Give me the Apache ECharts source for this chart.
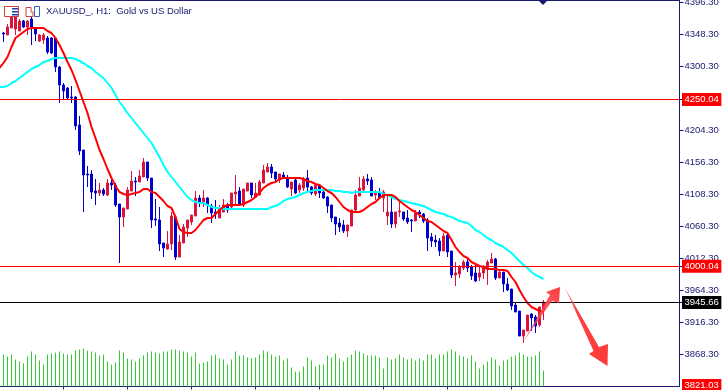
<!DOCTYPE html>
<html>

<head>
    <meta charset="utf-8">
    <script type="text/javascript" src="https://cdn.jsdelivr.net/npm/echarts@6/dist/echarts.min.js"></script>
    <title>XAUUSD H1</title>
    <style>
        html, body { margin: 0; padding: 0; background: #fff; }
    </style>
</head>

<body>
    <div id="container" style="width:728px;height:390px;"></div>
    <script type="text/javascript">
    // H1 candles
    var opens = [4349.8,4346.8,4357.3,4355.8,4352.8,4367.8,4358.8,4370.8,4357.3,4337.8,
        4339.3,4342.3,4342.3,4342.3,4298.8,4271.8,4267.3,4253.8,4253.8,4211.8,
        4174.3,4138.3,4138.3,4112.8,4109.8,4114.3,4106.8,4124.8,4121.8,4093.3,
        4073.8,4085.8,4112.8,4127.8,4126.3,4133.8,4156.3,4132.3,4070.8,4069.3,
        4034.8,4025.8,4033.3,4073.8,4013.8,4034.8,4057.3,4066.3,4075.3,4102.3,
        4094.8,4102.3,4090.3,4081.3,4072.3,4081.3,4091.8,4088.8,4108.3,4112.8,
        4091.8,4112.8,4124.8,4103.8,4106.8,4124.8,4141.3,4148.8,4141.3,4129.3,
        4136.8,4132.3,4115.8,4129.3,4114.3,4117.3,4132.3,4118.8,4108.3,4121.8,
        4111.3,4103.8,4091.8,4073.8,4064.8,4061.8,4052.8,4060.3,4084.3,4105.3,
        4114.3,4130.8,4129.3,4106.8,4109.8,4102.3,4075.3,4081.3,4063.3,4081.3,
        4081.3,4072.3,4069.3,4067.8,4081.3,4078.3,4069.3,4043.8,4039.3,4037.8,
        4022.8,4046.8,4022.8,3986.8,3988.3,3997.3,4006.3,3998.8,3989.8,3983.8,
        3989.8,3997.3,4004.8,4010.8,3982.3,3991.3,3973.3,3965.8,3941.8,3932.8,
        3895.3,3902.8,3928.3,3923.8,3911.8,3934.3];
    var closes = [4348.3,4358.8,4373.8,4379.8,4367.8,4358.8,4367.8,4358.8,4348.3,4346.8,
        4346.8,4321.3,4319.8,4298.8,4271.8,4262.8,4252.3,4252.3,4210.3,4172.8,
        4136.8,4136.8,4111.3,4109.8,4114.3,4108.3,4124.8,4121.8,4091.8,4073.8,
        4087.3,4114.3,4127.8,4126.3,4135.3,4156.3,4132.3,4069.3,4069.3,4033.3,
        4027.3,4033.3,4075.3,4013.8,4036.3,4058.8,4069.3,4076.8,4102.3,4096.3,
        4102.3,4091.8,4079.8,4078.3,4085.8,4091.8,4084.3,4109.8,4111.3,4091.8,
        4115.8,4124.8,4106.8,4109.8,4126.3,4144.3,4148.8,4139.8,4130.8,4138.3,
        4133.8,4118.8,4126.3,4109.8,4121.8,4129.3,4118.8,4109.8,4121.8,4109.8,
        4102.3,4090.3,4072.3,4063.3,4058.8,4052.8,4061.8,4084.3,4106.8,4117.3,
        4130.8,4127.8,4105.3,4109.8,4102.3,4111.3,4081.3,4063.3,4081.3,4082.8,
        4070.8,4066.3,4067.8,4079.8,4078.3,4067.8,4042.3,4037.8,4036.3,4022.8,
        4045.3,4021.3,3986.8,3989.8,3998.8,4006.3,3997.3,3985.3,3977.8,3989.8,
        3997.3,4006.3,4010.8,3982.3,3991.3,3973.3,3964.3,3940.3,3931.3,3895.3,
        3904.3,3926.8,3922.3,3910.3,3938.8,3946.3];
    var lows = [4336.3,4346.8,4357.3,4346.8,4352.8,4357.3,4346.8,4331.8,4337.8,4336.3,
        4333.3,4318.3,4318.3,4291.3,4244.8,4249.3,4249.3,4244.8,4204.3,4166.8,
        4081.3,4118.8,4100.8,4091.8,4105.3,4105.3,4105.3,4114.3,4088.8,4004.8,
        4058.8,4085.8,4112.8,4105.3,4126.3,4133.8,4127.8,4057.3,4060.3,4022.8,
        4013.8,4024.3,4024.3,4009.3,4013.8,4034.8,4043.8,4061.8,4075.3,4088.8,
        4088.8,4079.8,4064.8,4070.8,4072.3,4081.3,4079.8,4087.3,4091.8,4090.3,
        4088.8,4112.8,4102.3,4102.3,4106.8,4124.8,4141.3,4132.3,4124.8,4124.8,
        4132.3,4117.3,4105.3,4108.3,4109.8,4112.8,4112.8,4106.8,4105.3,4102.3,
        4100.8,4079.8,4066.3,4046.8,4051.3,4049.8,4043.8,4060.3,4081.3,4105.3,
        4111.3,4121.8,4105.3,4099.3,4102.3,4081.3,4061.8,4057.3,4057.3,4073.8,
        4067.8,4063.3,4051.3,4067.8,4072.3,4064.8,4022.8,4028.8,4028.8,4015.3,
        4022.8,4013.8,3982.3,3970.3,3982.3,3994.3,3991.3,3979.3,3976.3,3977.8,
        3980.8,3971.8,4004.8,3979.3,3982.3,3961.3,3962.8,3934.3,3931.3,3895.3,
        3884.8,3902.8,3902.8,3899.8,3908.8,3919.3];
    var highs = [4351.3,4363.3,4373.8,4379.8,4370.8,4369.3,4369.3,4373.8,4358.8,4348.3,
        4349.8,4345.3,4343.8,4342.3,4300.3,4274.8,4268.8,4270.3,4255.3,4225.3,
        4174.3,4150.3,4144.3,4130.8,4124.8,4117.3,4130.8,4132.3,4124.8,4093.3,
        4087.3,4118.8,4142.8,4133.8,4144.3,4162.3,4156.3,4132.3,4100.8,4088.8,
        4034.8,4052.8,4081.3,4075.3,4046.8,4063.3,4069.3,4076.8,4112.8,4106.8,
        4114.3,4103.8,4093.3,4099.3,4091.8,4100.8,4094.8,4109.8,4136.8,4118.8,
        4115.8,4124.8,4124.8,4124.8,4129.3,4151.8,4154.8,4153.3,4141.3,4138.3,
        4141.3,4136.8,4126.3,4132.3,4124.8,4133.8,4144.3,4120.3,4123.3,4121.8,
        4115.8,4105.3,4091.8,4073.8,4072.3,4069.3,4061.8,4084.3,4114.3,4133.8,
        4135.3,4138.3,4133.8,4114.3,4117.3,4114.3,4106.8,4102.3,4081.3,4096.3,
        4081.3,4084.3,4070.8,4084.3,4084.3,4079.8,4072.3,4049.8,4046.8,4042.3,
        4049.8,4051.3,4022.8,4006.3,4001.8,4009.3,4010.8,4001.8,4001.8,4001.8,
        4001.8,4009.3,4019.8,4012.3,3994.3,3991.3,3982.3,3965.8,3944.8,3932.8,
        3904.3,3926.8,3929.8,3926.8,3938.8,3949.3];

    // fast moving average (red), first value sits one slot left of the first candle
    var fastMa = [4297.3,4304.8,4313.8,4328.8,4342.3,4346.8,4351.3,4355.8,4357.3,4357.3,4357.3,
        4357.3,4352.8,4349.8,4342.3,4331.8,4319.8,4306.3,4294.3,4279.3,4262.8,
        4246.3,4229.8,4208.8,4192.3,4174.3,4160.8,4145.8,4132.3,4120.3,4111.3,
        4108.3,4106.8,4108.3,4109.8,4111.3,4115.8,4115.8,4111.3,4109.8,4103.8,
        4097.8,4090.3,4087.3,4073.8,4055.8,4051.3,4049.8,4049.8,4054.3,4061.8,
        4069.3,4072.3,4072.3,4078.3,4084.3,4088.8,4091.8,4091.8,4091.8,4091.8,
        4093.3,4096.3,4099.3,4103.8,4109.8,4117.3,4121.8,4124.8,4126.3,4130.8,
        4132.3,4132.3,4132.3,4132.3,4132.3,4130.8,4127.8,4126.3,4123.3,4121.8,
        4117.3,4112.8,4109.8,4103.8,4096.3,4088.8,4084.3,4081.3,4081.3,4081.3,
        4084.3,4088.8,4093.3,4096.3,4102.3,4106.8,4106.8,4106.8,4103.8,4097.8,
        4093.3,4088.8,4084.3,4081.3,4076.8,4072.3,4067.8,4066.3,4061.8,4057.3,
        4052.8,4049.8,4039.3,4028.8,4021.3,4015.3,4012.3,4006.3,4003.3,4000.3,
        3998.8,3995.8,3995.8,3995.8,3994.3,3994.3,3992.8,3983.8,3976.3,3964.3,
        3953.8,3944.8,3938.8,3935.8,3932.8,3931.3];

    // slow moving average (cyan)
    var slowMa = [4268.8,4268.8,4270.3,4274.8,4277.8,4282.3,4286.8,4291.3,4295.8,4298.8,4301.8,
        4306.3,4307.8,4310.8,4312.3,4312.3,4312.3,4312.3,4312.3,4310.8,4307.8,
        4304.8,4300.3,4297.3,4291.3,4286.8,4282.3,4274.8,4267.3,4256.8,4246.3,
        4238.8,4229.8,4222.3,4214.8,4207.3,4199.8,4192.3,4184.8,4174.3,4163.8,
        4151.8,4141.3,4133.8,4126.3,4118.8,4111.3,4103.8,4099.3,4096.3,4094.8,
        4094.8,4091.8,4088.8,4087.3,4087.3,4085.8,4085.8,4085.8,4085.8,4085.8,
        4085.8,4085.8,4085.8,4085.8,4085.8,4085.8,4085.8,4088.8,4090.3,4093.3,
        4097.8,4100.8,4102.3,4103.8,4106.8,4109.8,4111.3,4112.8,4114.3,4114.3,
        4114.3,4114.3,4114.3,4112.8,4112.8,4111.3,4111.3,4109.8,4111.3,4111.3,
        4111.3,4111.3,4111.3,4111.3,4111.3,4108.3,4106.8,4103.8,4100.8,4099.3,
        4097.8,4096.3,4094.8,4093.3,4091.8,4090.3,4087.3,4084.3,4081.3,4079.8,
        4078.3,4075.3,4073.8,4070.8,4067.8,4066.3,4064.8,4060.3,4054.3,4051.3,
        4046.8,4042.3,4039.3,4034.8,4031.8,4028.8,4024.3,4019.8,4013.8,4007.8,
        4001.8,3997.3,3991.3,3986.8,3983.8,3980.8];

    // tick volume, drawn in its own hidden axis
    var volumes = [32,30,32,27,25,23,30,35,32,26,
        22,32,33,34,35,33,32,32,36,37,
        38,36,35,34,31,32,25,22,24,36,
        34,28,27,25,28,31,34,35,34,33,
        35,35,37,37,36,35,34,30,34,23,
        24,25,31,32,28,27,22,27,35,31,
        31,29,28,29,32,36,35,32,30,31,
        26,28,19,15,15,20,29,26,20,22,
        22,31,29,33,28,25,29,32,36,35,
        33,31,31,31,29,18,29,27,28,32,
        29,27,28,26,28,26,32,32,28,32,
        32,35,37,35,31,30,28,31,25,18,
        22,25,29,27,21,26,27,30,31,34,
        32,30,30,31,35,16];

    var priceTicks = [4396.30,4348.30,4300.30,4204.30,4156.30,4108.30,4060.30,4012.30,3964.30,3916.30,3868.30];
    var redLevels = [4250.04,4000.04];
    var blackLevel = 3945.66;
    var lowLabel = 3821.03;

    var SLOTS = 171; // one empty slot before the first candle, free space after the last one

    var categories = [];
    for (var i = 0; i < SLOTS; i++) {
        categories.push(String(i));
    }

    var candleData = [['-', '-', '-', '-']];
    for (var j = 0; j < opens.length; j++) {
        candleData.push([opens[j], closes[j], lows[j], highs[j]]);
    }
    var volumeData = ['-'].concat(volumes);

    var NAVY = '#191970';
    var FONT = '"Liberation Sans",sans-serif';

    var myChart = echarts.init(document.getElementById('container'));

    var option = {
        animation: false,
        backgroundColor: '#fff',
        title: {
            text: 'XAUUSD_, H1:  Gold vs US Dollar',
            left: 46,
            top: 6,
            padding: 0,
            textStyle: { color: NAVY, fontSize: 9.5, fontWeight: 'normal', fontFamily: FONT }
        },
        tooltip: { show: false },
        legend: { show: false },
        grid: {
            left: -0.5,
            width: 680,
            top: 0.5,
            height: 386,
            outerBoundsMode: 'none'
        },
        xAxis: {
            type: 'category',
            data: categories,
            boundaryGap: false,
            axisLine: { show: true, onZero: false, lineStyle: { color: NAVY } },
            axisTick: {
                show: true,
                length: 3,
                lineStyle: { color: NAVY },
                interval: function (index) { return index > 0 && index % 16 === 0 && index <= opens.length; }
            },
            axisLabel: { show: false },
            splitLine: { show: false }
        },
        yAxis: [{
            type: 'value',
            position: 'right',
            min: 3819.55,
            max: 4398.55,
            axisLine: { show: true, lineStyle: { color: NAVY } },
            axisTick: {
                show: true,
                length: 4,
                lineStyle: { color: NAVY },
                customValues: priceTicks.concat(redLevels, [blackLevel])
            },
            splitLine: { show: false },
            axisLabel: {
                margin: 2.5,
                customValues: priceTicks.concat(redLevels, [blackLevel, lowLabel]),
                showMinLabel: true,
                showMaxLabel: true,
                formatter: function (value) {
                    var text = value.toFixed(2);
                    if (value === blackLevel) return '{black|' + text + '}';
                    if (value === lowLabel || redLevels.indexOf(value) >= 0) return '{red|' + text + '}';
                    return '{plain|' + text + '}';
                },
                rich: {
                    plain: { color: NAVY, fontSize: 9.5, fontFamily: FONT, padding: [1.5, 2.5] },
                    red: { color: '#fff', backgroundColor: '#ff0000', fontSize: 9.5, fontFamily: FONT, padding: [1.5, 2.5] },
                    black: { color: '#fff', backgroundColor: '#000', fontSize: 9.5, fontFamily: FONT, padding: [1.5, 2.5] }
                }
            }
        }, {
            type: 'value',
            show: false,
            min: 0,
            max: 386
        }],
        series: [{
            name: 'volume',
            type: 'bar',
            yAxisIndex: 1,
            barWidth: 1,
            data: volumeData,
            itemStyle: { color: '#32cd32' },
            silent: true,
            z: 1
        }, {
            name: 'price',
            type: 'candlestick',
            data: candleData,
            barWidth: 3,
            clip: false,
            silent: true,
            itemStyle: {
                color: '#dc143c',
                color0: '#0000cd',
                borderColor: '#dc143c',
                borderColor0: '#0000cd',
                borderWidth: 1
            },
            z: 2,
            markLine: {
                silent: true,
                symbol: 'none',
                label: { show: false },
                animation: false,
                lineStyle: { type: 'solid', width: 1 },
                data: [
                    { yAxis: redLevels[0], lineStyle: { color: '#ff0000' } },
                    { yAxis: redLevels[1], lineStyle: { color: '#ff0000' } },
                    { yAxis: blackLevel, lineStyle: { color: '#000' } }
                ]
            }
        }, {
            name: 'slow ma',
            type: 'line',
            data: slowMa,
            showSymbol: false,
            lineStyle: { color: '#00ffff', width: 2 },
            silent: true,
            z: 3
        }, {
            name: 'fast ma',
            type: 'line',
            data: fastMa,
            showSymbol: false,
            lineStyle: { color: '#ff0000', width: 2 },
            silent: true,
            z: 4
        }],
        graphic: [
            // chart frame, top edge
            { type: 'line', shape: { x1: 0, y1: 0.5, x2: 680, y2: 0.5 }, style: { stroke: NAVY, lineWidth: 1 }, z: 9 },
            // terminal toolbar icons
            { type: 'rect', shape: { x: 4.5, y: 6.5, width: 14, height: 10 }, style: { fill: '#fff', stroke: '#d04040' }, z: 10 },
            { type: 'rect', shape: { x: 12, y: 8, width: 6, height: 1.5 }, style: { fill: '#1f3fb0' }, z: 10 },
            { type: 'rect', shape: { x: 12, y: 11, width: 6, height: 1.5 }, style: { fill: '#1f3fb0' }, z: 10 },
            { type: 'rect', shape: { x: 12, y: 14, width: 6, height: 1.5 }, style: { fill: '#1f3fb0' }, z: 10 },
            { type: 'polyline', shape: { points: [[26, 16.5], [26, 7.5], [31, 7.5], [31, 12], [33, 12], [33, 16.5], [26, 16.5]] }, style: { fill: '#fff', stroke: '#d04040' }, z: 10 },
            { type: 'polyline', shape: { points: [[34.5, 16.5], [34.5, 6.5], [39.5, 6.5], [39.5, 16.5], [34.5, 16.5]] }, style: { fill: '#fff', stroke: '#3060c0' }, z: 10 },
            // period separator mark at the top edge
            { type: 'polygon', shape: { points: [[538, 0], [548, 0], [543, 5]] }, style: { fill: NAVY }, z: 10 },
            // hand drawn arrows on top of the chart
            {
                type: 'polygon',
                shape: { points: [[523, 342], [550, 295], [546, 292], [560, 287], [559, 303], [552, 301]] },
                style: {
                    fill: new echarts.graphic.LinearGradient(0, 1, 1, 0, [
                        { offset: 0, color: 'rgba(240,80,90,0.65)' },
                        { offset: 1, color: '#ff3b3b' }
                    ])
                },
                z: 11
            },
            {
                type: 'polygon',
                shape: { points: [[564.5, 287], [599, 347], [608, 344], [607.5, 366], [589, 354], [593.5, 351]] },
                style: {
                    fill: new echarts.graphic.LinearGradient(0, 0, 1, 1, [
                        { offset: 0, color: 'rgba(255,120,120,0.7)' },
                        { offset: 0.3, color: '#ff4040' },
                        { offset: 1, color: '#ff3b3b' }
                    ])
                },
                z: 11
            }
        ]
    };

    myChart.setOption(option);
    </script>
</body>

</html>
